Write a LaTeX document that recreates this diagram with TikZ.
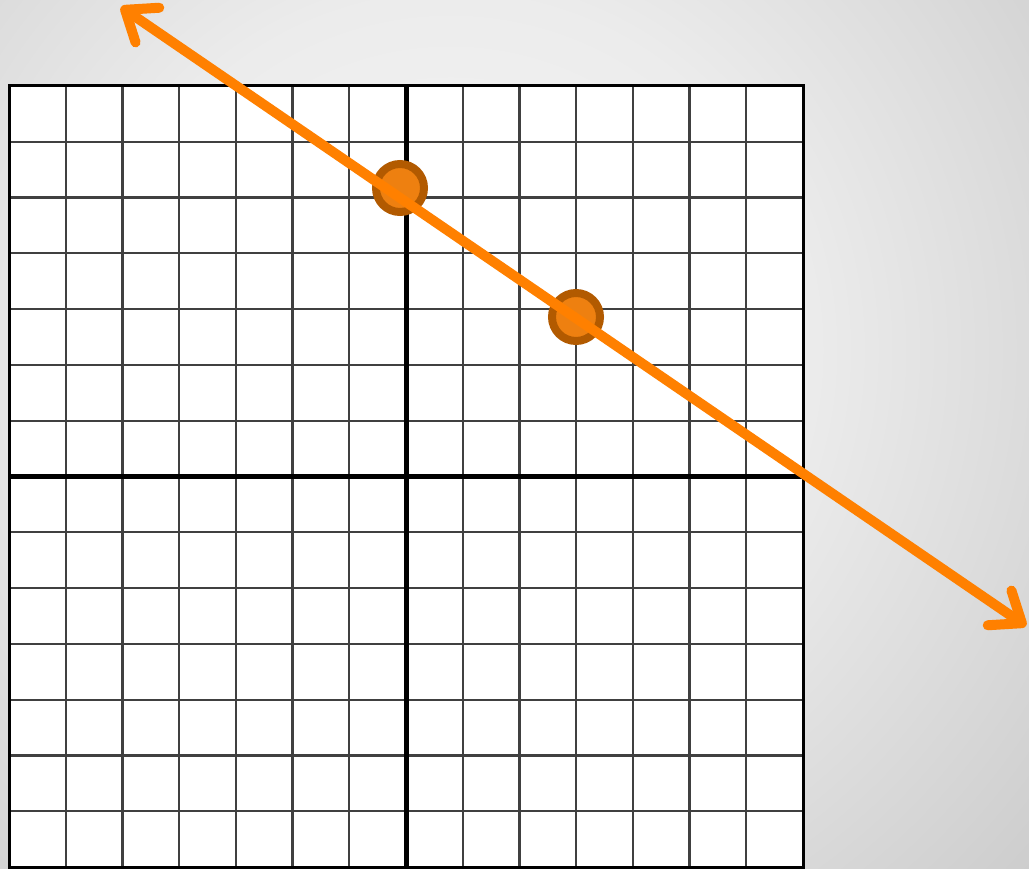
\documentclass[tikz,border=0pt]{standalone}
\usetikzlibrary{arrows.meta}
\definecolor{lineorange}{RGB}{255,128,0}
\definecolor{dotfill}{RGB}{238,128,16}
\definecolor{dotedge}{RGB}{178,90,0}
\colorlet{bgA}{black!3}
\colorlet{bgB}{black!7.5}
\colorlet{bgC}{black!19.5}
\colorlet{bgD}{black!26}
\pgfdeclareradialshading{bgshade}{\pgfpoint{0bp}{0bp}}{color(0bp)=(bgA); color(8.85bp)=(bgB); color(19.4bp)=(bgC); color(25bp)=(bgD); color(50bp)=(bgD)}
\tikzset{orbarb/.tip={Straight Barb[length=27pt,width=42pt,line cap=round,line join=round]}}
\begin{document}
\begin{tikzpicture}[x=1pt,y=-1pt,
  gridline/.style={line width=2.2pt, draw=black!75},
  axisline/.style={line width=5pt, draw=black},
  borderline/.style={line width=3pt, draw=black},
  dot/.style={circle, inner sep=0pt, minimum size=48pt, line width=8pt, draw=dotedge, fill=dotfill},
  orangeline/.style={line width=10pt, draw=lineorange}]
\path[use as bounding box] (0,0) rectangle (1029,869);
\begin{scope}
  \clip (0,0) rectangle (1029,869);
  \shade[shading=bgshade] (450,350) circle (1000);
\end{scope}
\fill[white] (9,86) rectangle (803,867);
\foreach \i in {1,...,13} {
  \draw[gridline] ({9+\i*794/14},86) -- ({9+\i*794/14},867);
  \draw[gridline] (9,{86+\i*781/14}) -- (803,{86+\i*781/14});
}
\draw[axisline] (406,86) -- (406,867);
\draw[axisline] (9,476.5) -- (803,476.5);
\draw[borderline] (9,86) rectangle (803,867);
\node[dot] (p1) at (400,188) {};
\node[dot] (p2) at (576,317) {};
\coordinate (endA) at (121,7);
\coordinate (endB) at (1026,626);
\draw[orangeline, orbarb-orbarb] (endA) -- (endB);
\end{tikzpicture}
\end{document}
